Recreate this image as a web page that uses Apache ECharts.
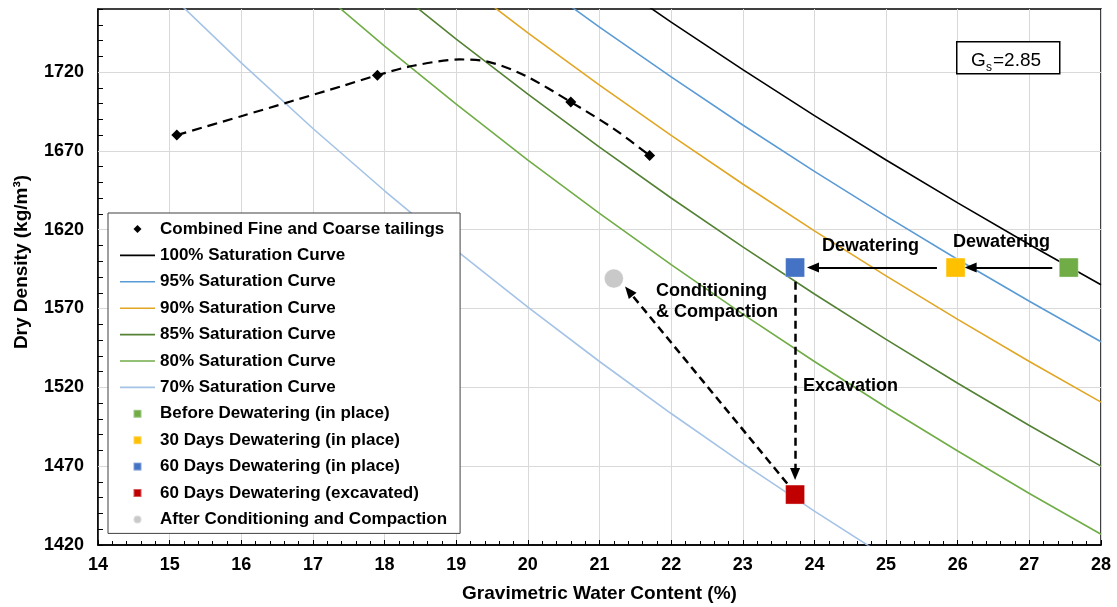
<!DOCTYPE html>
<html><head><meta charset="utf-8">
<script src="https://cdn.jsdelivr.net/npm/echarts/dist/echarts.min.js"></script>
<style>html,body{margin:0;padding:0;background:#fff}#c{width:1117px;height:607px}</style>
</head><body><div id="c"></div>
<script>
// ---- data ----
const yTickLabels = [1420, 1470, 1520, 1570, 1620, 1670, 1720];
const xTickLabels = [14, 15, 16, 17, 18, 19, 20, 21, 22, 23, 24, 25, 26, 27, 28];

const sat100 = [[20,1815.3],[21,1782.9],[22,1751.7],[23,1721.5],[24,1692.4],[25,1664.2],[26,1637.0],[27,1610.6],[28,1585.1]];
const sat95  = [[19,1815.3],[20,1781.3],[21,1748.5],[22,1716.9],[23,1686.4],[24,1657.0],[25,1628.6],[26,1601.1],[27,1574.6],[28,1548.9]];
const sat90  = [[18,1815.3],[19,1779.4],[20,1744.9],[21,1711.7],[22,1679.8],[23,1649.0],[24,1619.3],[25,1590.7],[26,1563.1],[27,1536.4],[28,1510.6]];
const sat85  = [[17,1815.3],[18,1777.3],[19,1740.9],[20,1706.0],[21,1672.4],[22,1640.1],[23,1609.1],[24,1579.2],[25,1550.4],[26,1522.6],[27,1495.8],[28,1470.0]];
const sat80  = [[16,1815.3],[17,1775.0],[18,1736.5],[19,1699.6],[20,1664.2],[21,1630.3],[22,1597.8],[23,1566.5],[24,1536.4],[25,1507.4],[26,1479.6],[27,1452.7],[28,1426.8]];
const sat70  = [[14,1815.3],[15,1769.4],[16,1725.8],[17,1684.2],[18,1644.7],[19,1606.9],[20,1570.9],[21,1536.4],[22,1503.4],[23,1471.8],[24,1441.5],[25,1412.4]];

const combinedPoints = [[15.1,1680],[17.9,1718],[20.6,1701],[21.7,1667]];
const combinedTrend  = [[15.1,1680],[16.0,1692],[16.7,1701.5],[17.4,1711],[17.9,1718],[18.4,1724],[19.05,1728],[19.45,1726.5],[19.95,1718],[20.6,1701],[21.2,1684],[21.7,1667]];

const beforeDewatering = [[27.55,1596]];
const days30 = [[25.97,1596]];
const days60 = [[23.73,1596]];
const days60Excavated = [[23.73,1452]];
const afterConditioning = [[21.2,1589]];

// arrows (data coordinates)
const arrowDewater1 = [[27.32,1596],[26.18,1596]];
const arrowDewater2 = [[25.71,1596],[23.98,1596]];
const arrowExcavation = [[23.73,1587],[23.73,1465]];
const arrowCompaction = [[23.62,1459],[21.41,1581]];

const names = {
  comb: 'Combined Fine and Coarse tailings',
  s100: '100% Saturation Curve', s95: '95% Saturation Curve', s90: '90% Saturation Curve',
  s85: '85% Saturation Curve', s80: '80% Saturation Curve', s70: '70% Saturation Curve',
  b: 'Before Dewatering (in place)', d30: '30 Days Dewatering (in place)',
  d60: '60 Days Dewatering (in place)', d60e: '60 Days Dewatering (excavated)',
  a: 'After Conditioning and Compaction'
};
const colors = {
  s100:'#000000', s95:'#5B9BD5', s90:'#E1A623', s85:'#548235', s80:'#70AD47', s70:'#A4C3E6',
  b:'#70AD47', d30:'#FFC000', d60:'#4472C4', d60e:'#C00000', a:'#C9C9C9'
};

const FONT = "Arial, 'Liberation Sans', sans-serif";
const lineIcon = 'path://M0,0L35,0L35,1.6L0,1.6Z';
const squareIcon = 'path://M0,0L10,0L10,10L0,10Z';
const diamondIcon = 'path://M5,0L10,5L5,10L0,5Z';
const circleIcon = 'path://M5,0A5,5,0,1,1,5,10A5,5,0,1,1,5,0Z';

function curve(name, data, color) {
  return { name, type:'line', data, symbol:'none', smooth:false, z:3,
    lineStyle:{ color, width:1.6 }, itemStyle:{ color } };
}
function sq(name, data, color, symbol) {
  return { name, type:'scatter', data, symbol: symbol || 'rect', symbolSize:19, z:6,
    itemStyle:{ color, opacity:1, borderColor:'rgba(255,255,255,0.35)', borderWidth:1 } };
}
function arrowPair(pts, dashed) {
  const ls = { color:'#000', width: dashed ? 2.5 : 2, type: dashed ? [8,5] : 'solid' };
  return [{ coord: pts[0], lineStyle: ls }, { coord: pts[1], lineStyle: ls }];
}

const chart = echarts.init(document.getElementById('c'), null, { renderer:'canvas' });
chart.setOption({
  animation:false,
  backgroundColor:'#fff',
  textStyle:{ fontFamily: FONT },
  grid:{ left:98, right:16, top:9, bottom:62, show:true, borderColor:'#000', borderWidth:1.5, outerBoundsMode:'none', containLabel:false },
  xAxis:{
    type:'value', min:14, max:28, interval:1,
    name:'Gravimetric Water Content (%)', nameLocation:'middle', nameGap:39,
    nameTextStyle:{ fontSize:19, fontWeight:'bold', color:'#000', fontFamily:FONT },
    axisLine:{ show:true, lineStyle:{ color:'#000', width:1.5 } },
    axisTick:{ show:true, inside:true, length:5, lineStyle:{ color:'#000' } },
    minorTick:{ show:true, splitNumber:5, length:4, lineStyle:{ color:'#000' } },
    axisLabel:{ fontSize:18, fontWeight:'bold', color:'#000', margin:11, fontFamily:FONT,
      formatter: v => xTickLabels.includes(Math.round(v)) ? String(Math.round(v)) : '' },
    splitLine:{ show:true, lineStyle:{ color:'#D9D9D9', width:1 } }
  },
  yAxis:{
    type:'value', min:1420, max:1760, interval:10,
    name:'Dry Density (kg/m³)', nameLocation:'middle', nameGap:67,
    nameTextStyle:{ fontSize:19, fontWeight:'bold', color:'#000', fontFamily:FONT, padding:[0,0,0,30] },
    axisLine:{ show:true, lineStyle:{ color:'#000', width:1.5 } },
    axisTick:{ show:true, inside:true, length:5, lineStyle:{ color:'#000' } },
    axisLabel:{ fontSize:18, fontWeight:'bold', color:'#000', margin:14, fontFamily:FONT,
      formatter: v => yTickLabels.includes(Math.round(v)) ? String(Math.round(v)) : '' },
    splitLine:{ show:false }
  },
  legend:{
    orient:'vertical', left:108, top:213, selectedMode:false, symbolKeepAspect:true,
    itemWidth:35, itemHeight:8, itemGap:8.4, z:8,
    padding:[7,13,5,12], borderColor:'#404040', borderWidth:1, backgroundColor:'#fff',
    textStyle:{ fontSize:17, fontWeight:'bold', color:'#000', fontFamily:FONT, lineHeight:18 },
    data:[
      { name:names.comb, icon:diamondIcon },
      { name:names.s100, icon:lineIcon }, { name:names.s95, icon:lineIcon }, { name:names.s90, icon:lineIcon },
      { name:names.s85, icon:lineIcon }, { name:names.s80, icon:lineIcon }, { name:names.s70, icon:lineIcon },
      { name:names.b, icon:squareIcon }, { name:names.d30, icon:squareIcon }, { name:names.d60, icon:squareIcon },
      { name:names.d60e, icon:squareIcon }, { name:names.a, icon:circleIcon }
    ]
  },
  graphic:[
    { type:'rect', left:956, top:41, shape:{ width:103, height:32 }, style:{ fill:'#fff', stroke:'#000', lineWidth:1.5 }, z:10 },
    { type:'text', left:971, top:51, style:{ text:'G', font:'19px '+FONT, fill:'#000' }, z:11 },
    { type:'text', left:986, top:62, style:{ text:'s', font:'12px '+FONT, fill:'#000' }, z:11 },
    { type:'text', left:993, top:51, style:{ text:'=2.85', font:'19px '+FONT, fill:'#000' }, z:11 },
    { type:'text', left:822, top:237, style:{ text:'Dewatering', font:'bold 18px '+FONT, fill:'#000' }, z:11 },
    { type:'text', left:953, top:233, style:{ text:'Dewatering', font:'bold 18px '+FONT, fill:'#000' }, z:11 },
    { type:'text', left:656, top:281, style:{ text:'Conditioning\n& Compaction', font:'bold 18px '+FONT, fill:'#000', lineHeight:21 }, z:11 },
    { type:'text', left:803, top:377, style:{ text:'Excavation', font:'bold 18px '+FONT, fill:'#000' }, z:11 }
  ],
  series:[
    { name:'gridH', type:'line', data:[], z:1, silent:true,
      markLine:{ silent:true, z:1, symbol:['none','none'], label:{ show:false },
        lineStyle:{ color:'#D9D9D9', width:1, type:'solid' },
        data: yTickLabels.slice(1).map(v => ({ yAxis:v })) } },
    curve(names.s100, sat100, colors.s100),
    curve(names.s95, sat95, colors.s95),
    curve(names.s90, sat90, colors.s90),
    curve(names.s85, sat85, colors.s85),
    curve(names.s80, sat80, colors.s80),
    curve(names.s70, sat70, colors.s70),
    { name:'trend', type:'line', data:combinedTrend, symbol:'none', smooth:0.3, z:4,
      lineStyle:{ color:'#000', width:2.2, type:[10,6] } },
    { name:names.comb, type:'scatter', data:combinedPoints, symbol:'diamond', symbolSize:11, z:5,
      itemStyle:{ color:'#000', opacity:1 } },
    { name:'arrows', type:'line', data:[], z:5,
      markLine:{ silent:true, z:5, symbol:['none','triangle'], symbolSize:[10,12], label:{ show:false },
        data:[ arrowPair(arrowDewater1,false), arrowPair(arrowDewater2,false),
               arrowPair(arrowExcavation,true), arrowPair(arrowCompaction,true) ] } },
    sq(names.b, beforeDewatering, colors.b),
    sq(names.d30, days30, colors.d30),
    sq(names.d60, days60, colors.d60),
    sq(names.d60e, days60Excavated, colors.d60e),
    sq(names.a, afterConditioning, colors.a, 'circle')
  ]
});
</script></body></html>
